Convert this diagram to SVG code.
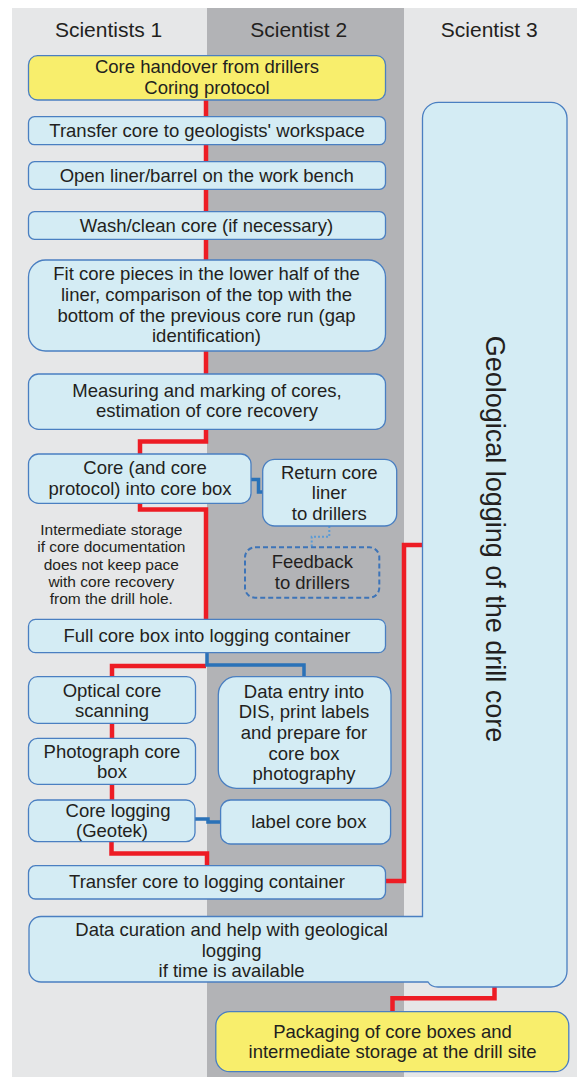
<svg xmlns="http://www.w3.org/2000/svg" width="577" height="1077" viewBox="0 0 577 1077">
<defs>
<style>
.lane1{fill:#e6e7e8}
.lane2{fill:#b2b3b6}
.hdr{font-family:"Liberation Sans",Arial,sans-serif;font-size:21px;fill:#231f20;text-anchor:middle}
.box{fill:#d4ecf4;stroke:#4a7fc1;stroke-width:1.3}
.ybox{fill:#f8ee6c;stroke:#4a7fc1;stroke-width:1.3}
.dbox{fill:none;stroke:#3d74b8;stroke-width:2;stroke-dasharray:5 3}
.t{font-family:"Liberation Sans",Arial,sans-serif;font-size:18.5px;fill:#231f20;text-anchor:middle}
.ts{font-family:"Liberation Sans",Arial,sans-serif;font-size:15.5px;fill:#231f20;text-anchor:middle}
.tg{font-family:"Liberation Sans",Arial,sans-serif;font-size:27px;fill:#231f20;text-anchor:middle}
.red{fill:none;stroke:#ed1c24;stroke-width:4.5}
.blue{fill:none;stroke:#2a72b8;stroke-width:3.5}
.dot{fill:none;stroke:#5b9bd5;stroke-width:2;stroke-dasharray:2 2}
</style>
</defs>
<rect width="577" height="1077" fill="#ffffff"/>
<g id="lanes">
<rect class="lane1" x="12" y="8" width="195" height="1069"/>
<rect class="lane2" x="207" y="8" width="197" height="1069"/>
<rect class="lane1" x="404" y="8" width="173" height="1069"/>
<text class="hdr" x="108.6" y="36.7">Scientists 1</text>
<text class="hdr" x="298.7" y="36.7">Scientist 2</text>
<text class="hdr" x="489.3" y="36.7">Scientist 3</text>
</g>
<g id="connectors">
<path class="red" d="M206,100 V441.5 H140 V454"/>
<path class="red" d="M140,503 V509.5 H206 V619.5"/>
<path class="red" d="M206,666 H112 V677"/>
<path class="red" d="M112,723 V738.5"/>
<path class="red" d="M112,784 V800"/>
<path class="red" d="M111.5,841.7 V853.5 H207 V866"/>
<path class="red" d="M385,881 H404 V545 H422.5"/>
<path class="red" d="M494.5,987 V998.3 H392.5 V1011.7"/>
<path class="blue" d="M251,479.5 H258.5 V492 H263"/>
<path class="blue" d="M207,652 V665 H304 V677"/>
<path class="blue" d="M195,819 H208 V822 H221"/>
<path class="dot" d="M329.3,526 V536.7 H311.7 V547.3"/>
</g>
<g id="n1"><rect class="ybox" x="28.5" y="55.7" width="357" height="44.3" rx="9"/>
<text class="t" x="207" y="73.3">Core handover from drillers</text><text class="t" x="207" y="94">Coring protocol</text></g>
<g id="n2"><rect class="box" x="28.5" y="116.7" width="357" height="28" rx="6"/>
<text class="t" x="207" y="136.7">Transfer core to geologists' workspace</text></g>
<g id="n3"><rect class="box" x="28.5" y="161.7" width="357" height="27.6" rx="6"/>
<text class="t" x="206.7" y="181.7">Open liner/barrel on the work bench</text></g>
<g id="n4"><rect class="box" x="28.5" y="211.7" width="357" height="27.6" rx="6"/>
<text class="t" x="206.5" y="231.7">Wash/clean core (if necessary)</text></g>
<g id="n5"><rect class="box" x="28.5" y="260" width="357" height="91" rx="17"/>
<text class="t" x="206.5" y="280">Fit core pieces in the lower half of the</text>
<text class="t" x="206.5" y="300.7">liner, comparison of the top with the</text>
<text class="t" x="206.5" y="321.7">bottom of the previous core run (gap</text>
<text class="t" x="206.5" y="342.3">identification)</text></g>
<g id="n6"><rect class="box" x="28.5" y="374" width="357" height="55.3" rx="10"/>
<text class="t" x="207" y="396.7">Measuring and marking of cores,</text>
<text class="t" x="207" y="416.7">estimation of core recovery</text></g>
<g id="n7"><rect class="box" x="28.5" y="454" width="222.5" height="49.3" rx="10"/>
<text class="t" x="145" y="474.3">Core (and core</text>
<text class="t" x="140" y="495">protocol) into core box</text></g>
<g id="n8"><rect class="box" x="262.7" y="459.3" width="134" height="66.7" rx="12"/>
<text class="t" x="329.3" y="479">Return core</text>
<text class="t" x="329.3" y="499.3">liner</text>
<text class="t" x="329.3" y="520">to drillers</text></g>
<g id="n9"><rect class="dbox" x="245" y="547.3" width="134.3" height="50.4" rx="10"/>
<text class="t" x="312.3" y="568.3">Feedback</text>
<text class="t" x="312.3" y="589">to drillers</text></g>
<g id="note">
<text class="ts" x="111.3" y="535">Intermediate storage</text>
<text class="ts" x="111.3" y="552.3">if core documentation</text>
<text class="ts" x="111.3" y="570">does not keep pace</text>
<text class="ts" x="111.3" y="587.3">with core recovery</text>
<text class="ts" x="111.3" y="604.3">from the drill hole.</text></g>
<g id="n10"><rect class="box" x="28.5" y="619.3" width="357" height="33.4" rx="7"/>
<text class="t" x="207" y="641.7">Full core box into logging container</text></g>
<g id="n11"><rect class="box" x="28.5" y="676.7" width="167" height="46.6" rx="9"/>
<text class="t" x="112" y="696.7">Optical core</text>
<text class="t" x="112" y="716.7">scanning</text></g>
<g id="n12"><rect class="box" x="28.5" y="738.3" width="167" height="46" rx="9"/>
<text class="t" x="112" y="757.7">Photograph core</text>
<text class="t" x="112" y="777.7">box</text></g>
<g id="n13"><rect class="box" x="218.3" y="676.7" width="172.7" height="111.6" rx="18"/>
<text class="t" x="304" y="697.7">Data entry into</text>
<text class="t" x="304" y="718.3">DIS, print labels</text>
<text class="t" x="304" y="739.3">and prepare for</text>
<text class="t" x="304" y="760">core box</text>
<text class="t" x="304" y="780">photography</text></g>
<g id="n14"><rect class="box" x="28.5" y="800" width="166.5" height="41.7" rx="9"/>
<text class="t" x="118" y="816.7">Core logging</text>
<text class="t" x="112" y="836.7">(Geotek)</text></g>
<g id="n15"><rect class="box" x="220.6" y="800" width="170" height="44" rx="10"/>
<text class="t" x="308.8" y="828.3">label core box</text></g>
<g id="n16"><rect class="box" x="28.5" y="865.7" width="357" height="33.3" rx="7"/>
<text class="t" x="207" y="888.3">Transfer core to logging container</text></g>
<g id="n17">
<path class="box" d="M41,916.5 H422.5 V118 A16,16 0 0 1 438.5,102.3 H551 A16,16 0 0 1 567,118.3 V971 A16,16 0 0 1 551,987 H438 Q431,987 428,982 H41 A12,12 0 0 1 29,970 V928.5 A12,12 0 0 1 41,916.5 Z"/>
<text class="tg" transform="translate(486,539) rotate(90)">Geological logging of the drill core</text>
<text class="t" x="231.6" y="936">Data curation and help with geological</text>
<text class="t" x="231.6" y="956.5">logging</text>
<text class="t" x="231.6" y="977">if time is available</text></g>
<g id="n18"><rect class="ybox" x="215.8" y="1011.7" width="353" height="60" rx="14"/>
<text class="t" x="392.5" y="1038.3">Packaging of core boxes and</text>
<text class="t" x="392.5" y="1058.3">intermediate storage at the drill site</text></g>
</svg>
